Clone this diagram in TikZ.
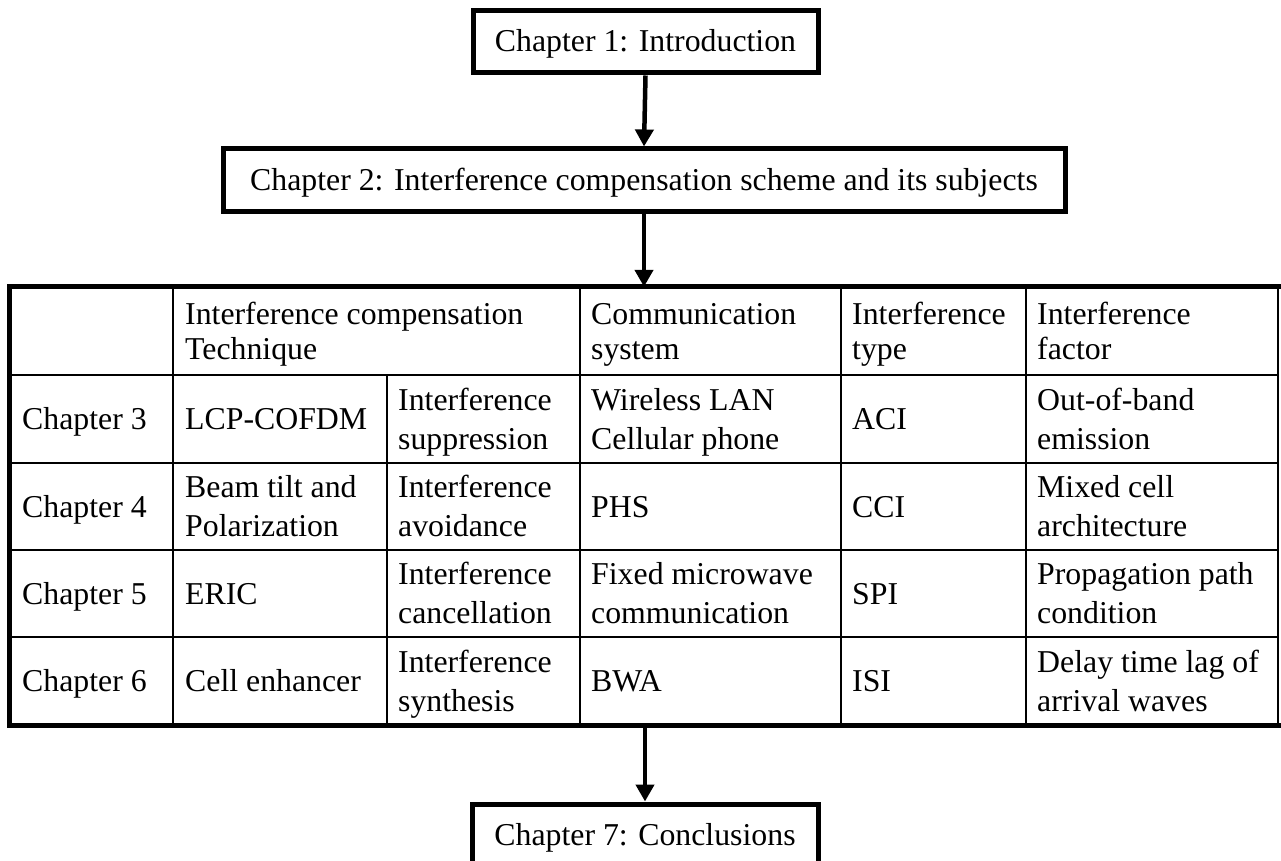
\documentclass[tikz,border=0pt]{standalone}
\usepackage{fontspec}
\setmainfont{Liberation Serif}
\usetikzlibrary{arrows.meta}
\begin{document}
\begin{tikzpicture}[x=1pt,y=-1pt,
  txt/.style={font=\fontsize{31.8}{35}\selectfont},
  chbox/.style={draw, line width=5pt, inner sep=0pt, minimum height=62pt, text height=20pt, text depth=0pt, txt},
  flow/.style={line width=4.5pt, -{Triangle[length=17pt,width=18pt]}},
  cell/.style={anchor=base west, inner sep=0pt, align=left, txt},
  dcell/.style={cell, font=\fontsize{31.8}{39}\selectfont},
  thinrule/.style={line width=2.5pt},
  thickrule/.style={line width=5pt, line cap=rect}]
\useasboundingbox (0,0) rectangle (1281,861);
\clip (0,0) rectangle (1281,861);

% flow boxes
\node[chbox, minimum width=345pt] (ch1) at (645.5,42) {Chapter 1: Introduction};
\node[chbox, minimum width=842pt] (ch2) at (644,180) {Chapter 2: Interference compensation scheme and its subjects};
\node[chbox, minimum width=346pt] (ch7) at (645,835) {Chapter 7: Conclusions};

% table frame
\node[inner sep=0pt, minimum width=1268pt, minimum height=438pt] (tbl) at (644,506) {};

% inner rules
\foreach \yy in {375,463,550,637}
  \draw[thinrule] (tbl.west |- 0,\yy) -- (tbl.east |- 0,\yy);
\foreach \xx in {173,580,841,1026}
  \draw[thinrule] (\xx,0 |- tbl.north) -- (\xx,0 |- tbl.south);
\draw[thinrule] (387,375) -- (387,0 |- tbl.south);

% outer rules
\draw[thinrule] (tbl.north east) -- (tbl.south east);
\draw[thickrule] (tbl.north east) -- (tbl.north west) -- (tbl.south west) -- (tbl.south east);

% header row (last baseline 359)
\node[cell] (h2) at (185,359) {Interference compensation\\Technique};
\node[cell] (h3) at (591,359) {Communication\\system};
\node[cell] (h4) at (852,359) {Interference\\type};
\node[cell] (h5) at (1037,359) {Interference\\factor};

% chapter 3 (mid 419)
\node[dcell] (r3a) at (22,429.5) {Chapter 3};
\node[dcell] (r3b) at (185,429.5) {LCP-COFDM};
\node[dcell] (r3c) at (398,449) {Interference\\suppression};
\node[dcell] (r3d) at (591,449) {Wireless LAN\\Cellular phone};
\node[dcell] (r3e) at (852,429.5) {ACI};
\node[dcell] (r3f) at (1037,449) {Out-of-band\\emission};

% chapter 4 (mid 506.5)
\node[dcell] (r4a) at (22,517) {Chapter 4};
\node[dcell] (r4b) at (185,536.5) {Beam tilt and\\Polarization};
\node[dcell] (r4c) at (398,536.5) {Interference\\avoidance};
\node[dcell] (r4d) at (591,517) {PHS};
\node[dcell] (r4e) at (852,517) {CCI};
\node[dcell] (r4f) at (1037,536.5) {Mixed cell\\architecture};

% chapter 5 (mid 593.5)
\node[dcell] (r5a) at (22,604) {Chapter 5};
\node[dcell] (r5b) at (185,604) {ERIC};
\node[dcell] (r5c) at (398,623.5) {Interference\\cancellation};
\node[dcell] (r5d) at (591,623.5) {Fixed microwave\\communication};
\node[dcell] (r5e) at (852,604) {SPI};
\node[dcell] (r5f) at (1037,623.5) {Propagation path\\condition};

% chapter 6 (mid 681)
\node[dcell] (r6a) at (22,691.5) {Chapter 6};
\node[dcell] (r6b) at (185,691.5) {Cell enhancer};
\node[dcell] (r6c) at (398,711) {Interference\\synthesis};
\node[dcell] (r6d) at (591,691.5) {BWA};
\node[dcell] (r6e) at (852,691.5) {ISI};
\node[dcell] (r6f) at (1037,711) {Delay time lag of\\arrival waves};

% arrows
\draw[flow] (ch1.south) -- (ch2.north);
\draw[flow] (ch2.south) -- (ch2.south |- tbl.north);
\draw[flow] (tbl.south -| ch7.north) -- (ch7.north);
\end{tikzpicture}
\end{document}
